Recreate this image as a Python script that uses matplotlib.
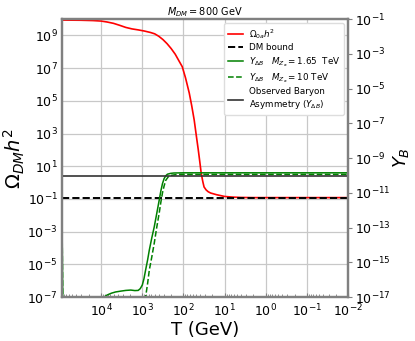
import numpy as np
import matplotlib
matplotlib.use('Agg')
import matplotlib.pyplot as plt
from matplotlib.ticker import LogLocator, FixedLocator

# ======================================================================
# Data (log10 values)
# ======================================================================
# relic abundance Omega h^2 vs T
logT_omega = [4.95, 4.5, 4.2, 4.0, 3.85, 3.7, 3.55, 3.4, 3.25, 3.1, 2.95, 2.8,
              2.7, 2.6, 2.5, 2.4, 2.3, 2.2, 2.1, 2.03, 1.95, 1.86, 1.8, 1.74,
              1.69, 1.64, 1.6, 1.57, 1.53, 1.5, 1.45, 1.4, 1.34, 1.2, 1.0, 0.8,
              0.6, 0.3, -2.0]
logOmega = [9.94, 9.93, 9.91, 9.88, 9.82, 9.74, 9.62, 9.49, 9.40, 9.34, 9.27,
            9.18, 9.10, 8.95, 8.75, 8.5, 8.2, 7.85, 7.4, 7.09, 6.4, 5.48, 4.7,
            3.83, 2.9, 1.99, 1.2, 0.58, 0.05, -0.27, -0.45, -0.56, -0.64, -0.74,
            -0.85, -0.89, -0.91, -0.92, -0.92]

# Y_DeltaB, M_Za = 1.65 TeV
logT_y165 = [4.95, 4.93, 3.93, 3.85, 3.75, 3.65, 3.52, 3.4, 3.28, 3.18, 3.1,
             3.05, 3.0, 2.96, 2.92, 2.87, 2.83, 2.77, 2.71, 2.65, 2.59, 2.55,
             2.51, 2.47, 2.43, 2.39, 2.31, 2.23, 2.0, -2.0]
logY165 = [-12.3, -18.0, -17.0, -16.88, -16.78, -16.71, -16.66, -16.62, -16.6,
           -16.63, -16.62, -16.52, -16.31, -15.95, -15.45, -14.85, -14.3, -13.6,
           -12.96, -12.2, -11.43, -10.9, -10.47, -10.18, -10.02, -9.93, -9.88,
           -9.86, -9.85, -9.85]

# Y_DeltaB, M_Za = 10 TeV
logT_y10 = [4.95, 4.93, 2.95, 2.92, 2.87, 2.83, 2.77, 2.71, 2.65, 2.59, 2.55,
            2.51, 2.47, 2.43, 2.37, 2.31, 2.2, 2.1, -2.0]
logY10 = [-12.3, -18.0, -18.0, -17.0, -16.2, -15.45, -14.7, -13.9, -13.0,
          -12.17, -11.55, -11.0, -10.6, -10.28, -10.08, -10.0, -9.96, -9.94, -9.94]

dm_bound = 0.12
yb_obs = 8.7e-11

left_ticks = [1e-7, 1e-5, 1e-3, 1e-1, 1e1, 1e3, 1e5, 1e7, 1e9]
right_ticks = [1e-17, 1e-15, 1e-13, 1e-11, 1e-9, 1e-7, 1e-5, 1e-3, 1e-1]

T_omega = 10.0**np.array(logT_omega)
Omega = 10.0**np.array(logOmega)
T_y165 = 10.0**np.array(logT_y165)
Y165 = 10.0**np.array(logY165)
T_y10 = 10.0**np.array(logT_y10)
Y10 = 10.0**np.array(logY10)

# ======================================================================
# Plot
# ======================================================================
spine_col = '#808080'
fig = plt.figure(figsize=(4.15, 3.41), dpi=100)
ax = fig.add_axes([0.149, 0.129, 0.690, 0.815])
ax2 = ax.twinx()

l1, = ax.plot(T_omega, Omega, color='red', linewidth=1.2, label=r'$\Omega_{0a}h^2$')
l2 = ax.axhline(dm_bound, color='black', linestyle='--', linewidth=1.4, label='DM bound')
l3, = ax2.plot(T_y165, Y165, color='green', linewidth=1.1,
               label=r'$Y_{\Delta B}$   $M_{Z_a}=1.65$  TeV')
l4, = ax2.plot(T_y10, Y10, color='green', linestyle='--', linewidth=1.1,
               label=r'$Y_{\Delta B}$   $M_{Z_a}=10$ TeV')
l5 = ax2.axhline(yb_obs, color='#333333', linewidth=1.2,
                 label='Observed Baryon\nAsymmetry ($Y_{\\Delta B}$)')

ax.set_xscale('log')
ax.set_yscale('log')
ax2.set_yscale('log')
ax.set_xlim(9e4, 1e-2)
ax.set_ylim(1e-7, 1e10)
ax2.set_ylim(1e-17, 1e-1)

ax.yaxis.set_major_locator(FixedLocator(left_ticks))
ax.yaxis.set_minor_locator(plt.NullLocator())
ax2.yaxis.set_major_locator(FixedLocator(right_ticks))
ax2.yaxis.set_minor_locator(plt.NullLocator())
ax.xaxis.set_major_locator(LogLocator(base=10.0, numticks=20))

ax.grid(True, which='major', color='#c8c8c8', linewidth=0.9)
ax.set_axisbelow(True)

ax.tick_params(axis='x', which='both', direction='in', color=spine_col, labelsize=9)
ax.tick_params(axis='x', which='major', length=3, pad=4)
ax.tick_params(axis='x', which='minor', length=2)
ax.tick_params(axis='y', length=0, labelsize=9, pad=3)
ax2.tick_params(axis='y', length=3, color=spine_col, labelsize=9, pad=2)

for a in (ax, ax2):
    for s in a.spines.values():
        s.set_color(spine_col)
        s.set_linewidth(1.6)

ax.set_xlabel('T (GeV)', fontsize=13, labelpad=1)
ax.set_ylabel(r'$\Omega_{DM}h^2$', fontsize=14, labelpad=0)
ax2.set_ylabel(r'$Y_B$', fontsize=13, labelpad=0)
ax.set_title(r'$M_{DM}=800$ GeV', fontsize=7, pad=3)

ax2.legend(handles=[l1, l2, l3, l4, l5], loc='upper right', fontsize=6.3,
           framealpha=1, edgecolor='#dddddd', fancybox=True,
           borderaxespad=0.5, handlelength=1.8, handletextpad=0.6,
           labelspacing=0.3, borderpad=0.4)

fig.savefig('out.png', dpi=100)
